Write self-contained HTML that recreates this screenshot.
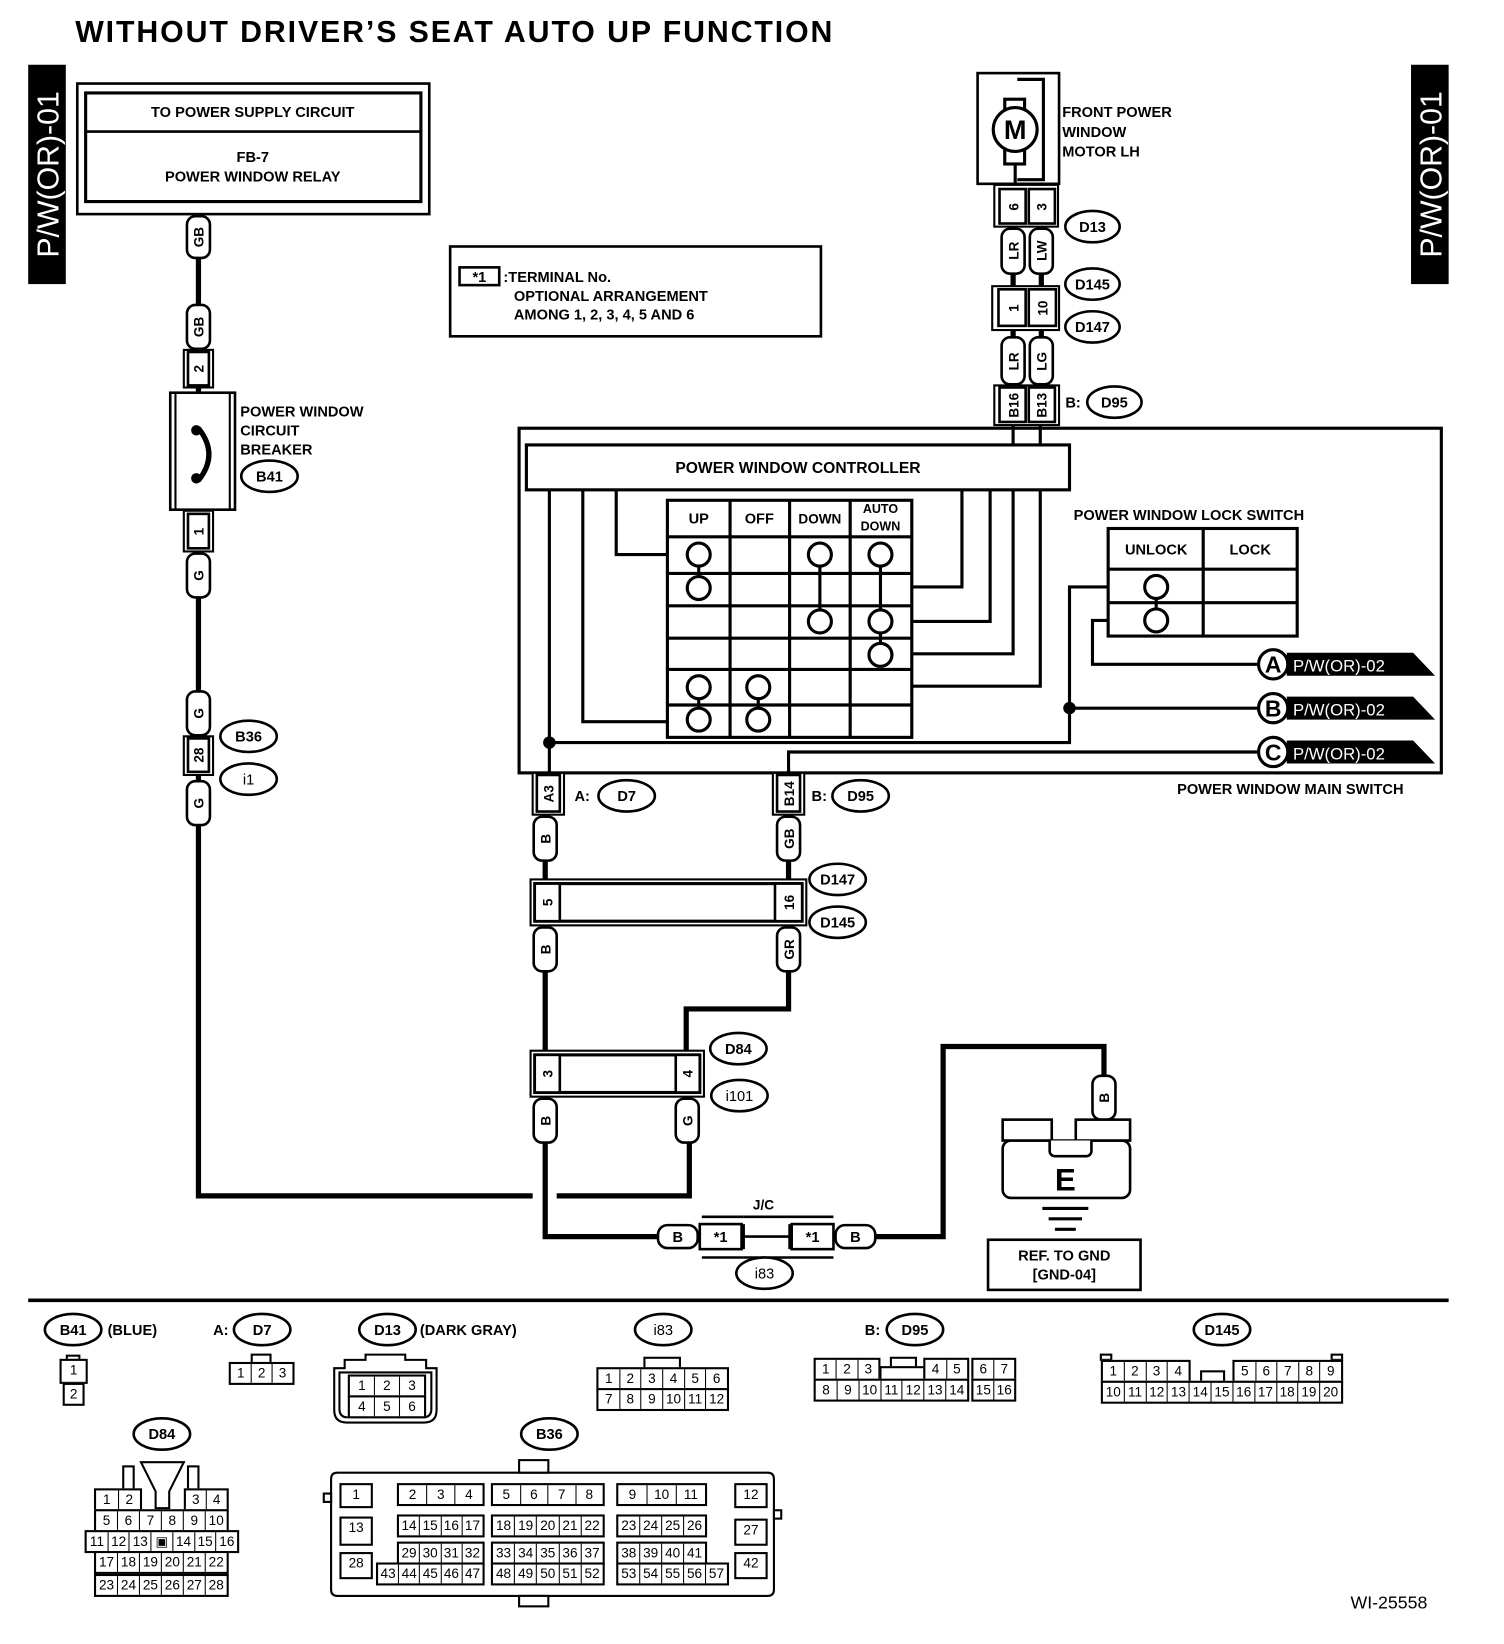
<!DOCTYPE html>
<html><head><meta charset="utf-8"><style>
html,body{margin:0;padding:0;background:#fff;width:1504px;height:1644px;overflow:hidden}
#w{position:absolute;left:0;top:0;width:1440px;height:1574px;transform:scale(1.04444);transform-origin:0 0}
svg{position:absolute;left:0;top:0}
text{font-family:"Liberation Sans",sans-serif;font-weight:bold;fill:#000}
.n{font-weight:normal}
.r{position:absolute;display:flex;border:2px solid #000;height:22px;box-sizing:border-box;background:#fff}
.r i{flex:1;font-style:normal;border-left:1.5px solid #000;text-align:center;font:13px/18px "Liberation Sans",sans-serif;color:#000}
.r i:first-child{border-left:0}
</style></head><body><div id="w">
<svg width="1440" height="1574" viewBox="0 0 1440 1574">
<text x="72" y="40" font-size="29" textLength="725">WITHOUT DRIVER’S SEAT AUTO UP FUNCTION</text>
<rect x="27" y="62" width="36" height="210" fill="#000"/>
<text transform="translate(56,167) rotate(-90)" text-anchor="middle" font-size="29" style="fill:#fff;font-weight:normal">P/W(OR)-01</text>
<rect x="1351" y="62" width="36" height="210" fill="#000"/>
<text transform="translate(1380,167) rotate(-90)" text-anchor="middle" font-size="29" style="fill:#fff;font-weight:normal">P/W(OR)-01</text>

<g fill="none" stroke="#000">
<rect x="74" y="80" width="337" height="125" stroke-width="2.5"/>
<rect x="82" y="89" width="321" height="104" stroke-width="3"/>
<line x1="82" y1="126" x2="403" y2="126" stroke-width="2.5"/>
<rect x="431" y="236" width="355" height="86" stroke-width="2.5"/>
<rect x="440" y="256" width="38" height="17" stroke-width="2.5"/>
<g stroke-width="5">
<path d="M190 205 V1145 H510"/>
<path d="M533 1145 H660 V1080"/>
<path d="M522 780 V1184 H632"/>
<path d="M755 780 V966 H657 V1010"/>
<path d="M838 1184 H903 V1002 H1057 V1040"/>
</g>
<rect x="497" y="410" width="883" height="330" stroke-width="3"/>
<rect x="504" y="426" width="520" height="43" stroke-width="3"/>
<g stroke-width="3">
<path d="M970 405 V426 M996 405 V426"/>
<path d="M526 469 V740"/>
<path d="M558 469 V691 H639"/>
<path d="M590 469 V531 H639"/>
<path d="M921 469 V562 H873"/>
<path d="M948 469 V595 H873"/>
<path d="M970 469 V626 H873"/>
<path d="M996 469 V657 H873"/>
<path d="M526 711 H1024 V562 H1061"/>
<path d="M1061 594 H1046 V636 H1205"/>
<path d="M1024 678 H1205"/>
<path d="M755 740 V720 H1205"/>
</g>
<g stroke-width="3">
<rect x="639" y="479" width="234" height="227"/>
<path d="M699 479V706 M756 479V706 M814 479V706 M639 514H873 M639 549H873 M639 580H873 M639 611H873 M639 641H873 M639 675H873"/>
<path d="M669 531V563 M785 531V595 M843 531V627 M669 658V689 M726 658V689"/>
</g>
<g stroke-width="3" fill="#fff">
<circle cx="669" cy="531" r="11"/><circle cx="669" cy="563" r="11"/>
<circle cx="785" cy="531" r="11"/><circle cx="785" cy="595" r="11"/>
<circle cx="843" cy="531" r="11"/><circle cx="843" cy="595" r="11"/><circle cx="843" cy="627" r="11"/>
<circle cx="669" cy="658" r="11"/><circle cx="669" cy="689" r="11"/>
<circle cx="726" cy="658" r="11"/><circle cx="726" cy="689" r="11"/>
</g>
<g stroke-width="3">
<rect x="1061" y="506" width="181" height="103"/>
<path d="M1152 506V609 M1061 545H1242 M1061 577H1242 M1107 562V594"/>
</g>
<g stroke-width="3" fill="#fff"><circle cx="1107" cy="562" r="11"/><circle cx="1107" cy="594" r="11"/></g>
</g>
<circle cx="526" cy="711" r="6" fill="#000"/>
<circle cx="1024" cy="678" r="6" fill="#000"/>
<g>
<path d="M1232 625 H1353 L1374 647 H1232 Z" fill="#000"/>
<path d="M1232 667 H1353 L1374 689 H1232 Z" fill="#000"/>
<path d="M1232 709 H1353 L1374 731 H1232 Z" fill="#000"/>
<circle cx="1219" cy="636" r="14" fill="#fff" stroke="#000" stroke-width="3"/>
<circle cx="1219" cy="678" r="14" fill="#fff" stroke="#000" stroke-width="3"/>
<circle cx="1219" cy="720" r="14" fill="#fff" stroke="#000" stroke-width="3"/>
<text x="1219" y="644" text-anchor="middle" font-size="22">A</text>
<text x="1219" y="686" text-anchor="middle" font-size="22">B</text>
<text x="1219" y="728" text-anchor="middle" font-size="22">C</text>
<text x="1238" y="643" font-size="16" style="fill:#fff;font-weight:normal">P/W(OR)-02</text>
<text x="1238" y="685" font-size="16" style="fill:#fff;font-weight:normal">P/W(OR)-02</text>
<text x="1238" y="727" font-size="16" style="fill:#fff;font-weight:normal">P/W(OR)-02</text>
</g>

<g fill="none" stroke="#000" stroke-width="3">
<rect x="936" y="70" width="78" height="106" stroke-width="2.5"/>
<path d="M974 76 H999 V172 H974"/>
<rect x="962" y="95" width="19" height="62" fill="#fff"/>
<circle cx="972" cy="124" r="21" fill="#fff"/>
<path d="M972 157 V176"/>
</g>
<text x="972" y="133" text-anchor="middle" font-size="26">M</text>
<g fill="#fff" stroke="#000">
<rect x="952" y="177" width="61" height="40" stroke-width="2"/>
<rect x="957" y="181" width="25" height="33" stroke-width="2.5"/>
<rect x="985" y="181" width="25" height="33" stroke-width="2.5"/>
<rect x="959" y="219" width="22" height="43" rx="8" stroke-width="2.5"/>
<rect x="986" y="219" width="22" height="43" rx="8" stroke-width="2.5"/>
<line x1="970" y1="262" x2="970" y2="275" stroke-width="5"/><line x1="997" y1="262" x2="997" y2="275" stroke-width="5"/>
<rect x="950" y="274" width="64" height="42" stroke-width="2"/>
<rect x="956" y="277" width="26" height="35" stroke-width="2.5"/>
<rect x="985" y="277" width="26" height="35" stroke-width="2.5"/>
<line x1="970" y1="316" x2="970" y2="326" stroke-width="5"/><line x1="997" y1="316" x2="997" y2="326" stroke-width="5"/>
<rect x="959" y="323" width="22" height="45" rx="8" stroke-width="2.5"/>
<rect x="986" y="323" width="22" height="45" rx="8" stroke-width="2.5"/>
<rect x="952" y="369" width="62" height="38" stroke-width="2"/>
<rect x="957" y="371" width="25" height="33" stroke-width="2.5"/>
<rect x="985" y="371" width="25" height="33" stroke-width="2.5"/>
</g>
<g font-size="13">
<text transform="translate(975,198) rotate(-90)" text-anchor="middle">6</text>
<text transform="translate(1002,198) rotate(-90)" text-anchor="middle">3</text>
<text transform="translate(975,240) rotate(-90)" text-anchor="middle">LR</text>
<text transform="translate(1002,240) rotate(-90)" text-anchor="middle">LW</text>
<text transform="translate(975,295) rotate(-90)" text-anchor="middle">1</text>
<text transform="translate(1003,295) rotate(-90)" text-anchor="middle">10</text>
<text transform="translate(975,346) rotate(-90)" text-anchor="middle">LR</text>
<text transform="translate(1002,346) rotate(-90)" text-anchor="middle">LG</text>
<text transform="translate(975,388) rotate(-90)" text-anchor="middle">B16</text>
<text transform="translate(1002,388) rotate(-90)" text-anchor="middle">B13</text>
</g>
<g fill="#fff" stroke="#000" stroke-width="2.5">
<ellipse cx="1046" cy="217" rx="26" ry="15"/>
<ellipse cx="1046" cy="272" rx="26" ry="15"/>
<ellipse cx="1046" cy="313" rx="26" ry="15"/>
<ellipse cx="1067" cy="385" rx="26" ry="15"/>
</g>
<g font-size="14" text-anchor="middle">
<text x="1046" y="222">D13</text><text x="1046" y="277">D145</text><text x="1046" y="318">D147</text><text x="1067" y="390">D95</text>
</g>
<text x="1020" y="390" font-size="14">B:</text>
<g font-size="14"><text x="1017" y="112">FRONT POWER</text><text x="1017" y="131">WINDOW</text><text x="1017" y="150">MOTOR LH</text></g>

<g fill="#fff" stroke="#000" stroke-width="2.5">
<rect x="179" y="207" width="22" height="40" rx="8"/>
<rect x="179" y="292" width="22" height="42" rx="8"/>
<rect x="176" y="335" width="28" height="36" stroke-width="2"/><rect x="180" y="337" width="20" height="32"/>
<rect x="163" y="376" width="62" height="112"/>
<rect x="176" y="489" width="28" height="39" stroke-width="2"/><rect x="180" y="492" width="20" height="33"/>
<rect x="179" y="530" width="22" height="42" rx="8"/>
<rect x="179" y="662" width="22" height="42" rx="8"/>
<rect x="176" y="705" width="28" height="37" stroke-width="2"/><rect x="180" y="707" width="20" height="32"/>
<rect x="179" y="748" width="22" height="42" rx="8"/>
</g>
<path d="M168 376V488 M220 376V488" stroke="#000" stroke-width="2"/>
<path d="M190 410 Q 210 435 190 460" fill="none" stroke="#000" stroke-width="5"/>
<circle cx="188" cy="412" r="5"/><circle cx="188" cy="458" r="5"/>
<g font-size="13">
<text transform="translate(195,227) rotate(-90)" text-anchor="middle">GB</text>
<text transform="translate(195,313) rotate(-90)" text-anchor="middle">GB</text>
<text transform="translate(195,353) rotate(-90)" text-anchor="middle">2</text>
<text transform="translate(195,509) rotate(-90)" text-anchor="middle">1</text>
<text transform="translate(195,551) rotate(-90)" text-anchor="middle">G</text>
<text transform="translate(195,683) rotate(-90)" text-anchor="middle">G</text>
<text transform="translate(195,723) rotate(-90)" text-anchor="middle">28</text>
<text transform="translate(195,769) rotate(-90)" text-anchor="middle">G</text>
</g>
<g font-size="14"><text x="230" y="399">POWER WINDOW</text><text x="230" y="417">CIRCUIT</text><text x="230" y="435">BREAKER</text></g>
<g fill="#fff" stroke="#000" stroke-width="2.5">
<ellipse cx="258" cy="456" rx="27" ry="15"/><ellipse cx="238" cy="705" rx="27" ry="15"/><ellipse cx="238" cy="746" rx="27" ry="15"/>
</g>
<g font-size="14" text-anchor="middle"><text x="258" y="461">B41</text><text x="238" y="710">B36</text><text x="238" y="751" class="n">i1</text></g>

<g font-size="14" text-anchor="middle">
<text x="242" y="112">TO POWER SUPPLY CIRCUIT</text>
<text x="242" y="155">FB-7</text>
<text x="242" y="174">POWER WINDOW RELAY</text>
<text x="764" y="453" font-size="15">POWER WINDOW CONTROLLER</text>
<text x="669" y="501">UP</text><text x="727" y="501">OFF</text><text x="785" y="501" font-size="13">DOWN</text>
<text x="843" y="491" font-size="12">AUTO</text><text x="843" y="508" font-size="12">DOWN</text>
<text x="1107" y="531">UNLOCK</text><text x="1197" y="531">LOCK</text>
</g>
<text x="459" y="270" font-size="14" text-anchor="middle">*1</text>
<g font-size="14"><text x="482" y="270">:TERMINAL No.</text><text x="492" y="288">OPTIONAL ARRANGEMENT</text><text x="492" y="306">AMONG 1, 2, 3, 4, 5 AND 6</text>
<text x="1028" y="498">POWER WINDOW LOCK SWITCH</text>
<text x="1127" y="760">POWER WINDOW MAIN SWITCH</text></g>

<g fill="#fff" stroke="#000" stroke-width="2.5">
<rect x="510" y="740" width="30" height="40" stroke-width="2"/><rect x="514" y="742" width="22" height="35"/>
<rect x="740" y="740" width="30" height="40" stroke-width="2"/><rect x="744" y="742" width="22" height="35"/>
<rect x="511" y="782" width="22" height="42" rx="8"/>
<rect x="744" y="782" width="22" height="42" rx="8"/>
<rect x="508" y="842" width="264" height="44" stroke-width="2"/>
<rect x="512" y="846" width="256" height="36" stroke-width="3"/>
<rect x="512" y="846" width="24" height="36"/><rect x="742" y="846" width="26" height="36"/>
<rect x="511" y="888" width="22" height="42" rx="8"/>
<rect x="744" y="888" width="22" height="42" rx="8"/>
<rect x="508" y="1006" width="166" height="44" stroke-width="2"/>
<rect x="512" y="1010" width="158" height="36" stroke-width="3"/>
<rect x="512" y="1010" width="24" height="36"/><rect x="647" y="1010" width="23" height="36"/>
<rect x="511" y="1052" width="22" height="42" rx="8"/>
<rect x="647" y="1052" width="22" height="42" rx="8"/>
<rect x="630" y="1173" width="38" height="22" rx="9"/>
<rect x="670" y="1172" width="40" height="24"/>
<rect x="758" y="1172" width="40" height="24"/>
<rect x="800" y="1173" width="38" height="22" rx="9"/>
<rect x="1046" y="1030" width="22" height="42" rx="8"/>
</g>
<path d="M712 1165H798 M712 1204H798 M712 1172V1196 M756 1172V1196 M712 1184H756" stroke="#000" stroke-width="2.5" fill="none"/>
<path d="M672 1165H712 M672 1204H712" stroke="#000" stroke-width="2.5"/>
<g font-size="13">
<text transform="translate(530,760) rotate(-90)" text-anchor="middle">A3</text>
<text transform="translate(760,760) rotate(-90)" text-anchor="middle">B14</text>
<text transform="translate(527,803) rotate(-90)" text-anchor="middle">B</text>
<text transform="translate(760,803) rotate(-90)" text-anchor="middle">GB</text>
<text transform="translate(529,864) rotate(-90)" text-anchor="middle">5</text>
<text transform="translate(760,864) rotate(-90)" text-anchor="middle">16</text>
<text transform="translate(527,909) rotate(-90)" text-anchor="middle">B</text>
<text transform="translate(760,909) rotate(-90)" text-anchor="middle">GR</text>
<text transform="translate(529,1028) rotate(-90)" text-anchor="middle">3</text>
<text transform="translate(663,1028) rotate(-90)" text-anchor="middle">4</text>
<text transform="translate(527,1073) rotate(-90)" text-anchor="middle">B</text>
<text transform="translate(663,1073) rotate(-90)" text-anchor="middle">G</text>
<text transform="translate(1062,1051) rotate(-90)" text-anchor="middle">B</text>
</g>
<g font-size="14" text-anchor="middle">
<text x="649" y="1189">B</text><text x="690" y="1189">*1</text><text x="778" y="1189">*1</text><text x="819" y="1189">B</text>
<text x="731" y="1158" font-size="13">J/C</text>
</g>
<text x="550" y="767" font-size="14">A:</text><text x="777" y="767" font-size="14">B:</text>
<g fill="#fff" stroke="#000" stroke-width="2.5">
<ellipse cx="600" cy="762" rx="27" ry="15"/><ellipse cx="824" cy="762" rx="27" ry="15"/>
<ellipse cx="802" cy="842" rx="27" ry="15"/><ellipse cx="802" cy="883" rx="27" ry="15"/>
<ellipse cx="707" cy="1004" rx="27" ry="15"/><ellipse cx="708" cy="1049" rx="27" ry="15"/>
<ellipse cx="732" cy="1219" rx="27" ry="15"/>
</g>
<g font-size="14" text-anchor="middle">
<text x="600" y="767">D7</text><text x="824" y="767">D95</text><text x="802" y="847">D147</text><text x="802" y="888">D145</text>
<text x="707" y="1009">D84</text><text x="708" y="1054" class="n">i101</text><text x="732" y="1224" class="n">i83</text>
</g>
<g fill="#fff" stroke="#000" stroke-width="2.5">
<rect x="960" y="1092" width="122" height="55" rx="8"/>
<rect x="960" y="1072" width="47" height="20"/>
<rect x="1030" y="1072" width="52" height="20"/>
</g>
<path d="M1005 1092 v10 a5 5 0 0 0 5 5 h30 a5 5 0 0 0 5 -5 v-10" fill="#fff" stroke="#000" stroke-width="2.5"/>
<text x="1020" y="1140" font-size="30" text-anchor="middle">E</text>
<path d="M998 1157H1042 M1004 1167H1036 M1010 1177H1030" stroke="#000" stroke-width="3"/>
<rect x="946" y="1187" width="146" height="48" fill="none" stroke="#000" stroke-width="2.5"/>
<g font-size="14" text-anchor="middle"><text x="1019" y="1207">REF. TO GND</text><text x="1019" y="1225">[GND-04]</text></g>

<line x1="27" y1="1245" x2="1387" y2="1245" stroke="#000" stroke-width="3.5"/>

<g fill="#fff" stroke="#000" stroke-width="2.5">
<ellipse cx="70" cy="1273" rx="27" ry="15"/><ellipse cx="251" cy="1273" rx="27" ry="15"/>
<ellipse cx="371" cy="1273" rx="27" ry="15"/><ellipse cx="635" cy="1273" rx="27" ry="15"/>
<ellipse cx="876" cy="1273" rx="27" ry="15"/><ellipse cx="1170" cy="1273" rx="27" ry="15"/>
<ellipse cx="155" cy="1373" rx="27" ry="15"/><ellipse cx="526" cy="1373" rx="27" ry="15"/>
</g>
<g font-size="14" text-anchor="middle">
<text x="70" y="1278">B41</text><text x="251" y="1278">D7</text><text x="371" y="1278">D13</text><text x="635" y="1278" class="n">i83</text>
<text x="876" y="1278">D95</text><text x="1170" y="1278">D145</text><text x="155" y="1378">D84</text><text x="526" y="1378">B36</text>
</g>
<g font-size="14"><text x="103" y="1278">(BLUE)</text><text x="204" y="1278">A:</text><text x="402" y="1278">(DARK GRAY)</text><text x="828" y="1278">B:</text></g>
<text x="1293" y="1540" font-size="17" class="n">WI-25558</text>

<g fill="#fff" stroke="#000" stroke-width="2">
<rect x="64" y="1298" width="12" height="4"/>
<rect x="241" y="1297" width="18" height="8"/>
<rect x="617" y="1300" width="34" height="11"/>
<rect x="853" y="1300" width="24" height="10"/>
<rect x="1054" y="1297" width="10" height="5"/><rect x="1275" y="1297" width="10" height="5"/>
<rect x="1150" y="1313" width="22" height="10"/>
<path d="M320 1310 H330 V1302 H350 V1297 H388 V1302 H408 V1310 H418 V1350 Q418 1362 406 1362 H332 Q320 1362 320 1350 Z"/>
<path d="M325 1314 H413 V1349 Q413 1357 405 1357 H333 Q325 1357 325 1349 Z"/>
<rect x="118" y="1404" width="10" height="24"/><rect x="180" y="1404" width="10" height="24"/>
<path d="M135 1400 H176 L162 1428 V1444 H149 V1428 Z"/>
<path d="M323 1410 H735 Q741 1410 741 1416 V1522 Q741 1528 735 1528 H323 Q317 1528 317 1522 V1416 Q317 1410 323 1410 Z"/>
<rect x="497" y="1398" width="28" height="12"/><rect x="497" y="1528" width="28" height="10"/>
<rect x="310" y="1430" width="7" height="8"/><rect x="741" y="1446" width="7" height="8"/>
</g>
</svg>

<div class="r" style="left:57px;top:1301px;width:27px;height:24px"><i>1</i></div>
<div class="r" style="left:60px;top:1324px;width:21px;height:22px"><i>2</i></div>
<div class="r" style="left:219px;top:1304px;width:63px"><i>1</i><i>2</i><i>3</i></div>
<div class="r" style="left:333px;top:1316px;width:75px"><i>1</i><i>2</i><i>3</i></div>
<div class="r" style="left:333px;top:1336px;width:75px"><i>4</i><i>5</i><i>6</i></div>
<div class="r" style="left:571px;top:1309px;width:127px"><i>1</i><i>2</i><i>3</i><i>4</i><i>5</i><i>6</i></div>
<div class="r" style="left:571px;top:1329px;width:127px"><i>7</i><i>8</i><i>9</i><i>10</i><i>11</i><i>12</i></div>
<div class="r" style="left:779px;top:1300px;width:64px"><i>1</i><i>2</i><i>3</i></div>
<div class="r" style="left:842px;top:1308px;width:44px;height:14px;border-bottom:0"></div>
<div class="r" style="left:884px;top:1300px;width:44px"><i>4</i><i>5</i></div>
<div class="r" style="left:930px;top:1300px;width:43px"><i>6</i><i>7</i></div>
<div class="r" style="left:779px;top:1320px;width:149px"><i>8</i><i>9</i><i>10</i><i>11</i><i>12</i><i>13</i><i>14</i></div>
<div class="r" style="left:930px;top:1320px;width:43px"><i>15</i><i>16</i></div>
<div class="r" style="left:1054px;top:1302px;width:86px"><i>1</i><i>2</i><i>3</i><i>4</i></div>
<div class="r" style="left:1180px;top:1302px;width:106px"><i>5</i><i>6</i><i>7</i><i>8</i><i>9</i></div>
<div class="r" style="left:1054px;top:1322px;width:232px"><i>10</i><i>11</i><i>12</i><i>13</i><i>14</i><i>15</i><i>16</i><i>17</i><i>18</i><i>19</i><i>20</i></div>
<div class="r" style="left:90px;top:1425px;width:46px"><i>1</i><i>2</i></div>
<div class="r" style="left:176px;top:1425px;width:43px"><i>3</i><i>4</i></div>
<div class="r" style="left:90px;top:1445px;width:129px"><i>5</i><i>6</i><i>7</i><i>8</i><i>9</i><i>10</i></div>
<div class="r" style="left:81px;top:1465px;width:148px"><i>11</i><i>12</i><i>13</i><i>▣</i><i>14</i><i>15</i><i>16</i></div>
<div class="r" style="left:90px;top:1485px;width:129px"><i>17</i><i>18</i><i>19</i><i>20</i><i>21</i><i>22</i></div>
<div class="r" style="left:90px;top:1507px;width:129px"><i>23</i><i>24</i><i>25</i><i>26</i><i>27</i><i>28</i></div>
<div class="r" style="left:325px;top:1420px;width:32px;height:24px"><i>1</i></div>
<div class="r" style="left:380px;top:1420px;width:84px"><i>2</i><i>3</i><i>4</i></div>
<div class="r" style="left:470px;top:1420px;width:109px"><i>5</i><i>6</i><i>7</i><i>8</i></div>
<div class="r" style="left:590px;top:1420px;width:87px"><i>9</i><i>10</i><i>11</i></div>
<div class="r" style="left:703px;top:1420px;width:32px;height:24px"><i>12</i></div>
<div class="r" style="left:325px;top:1452px;width:32px;height:28px"><i>13</i></div>
<div class="r" style="left:380px;top:1450px;width:84px"><i>14</i><i>15</i><i>16</i><i>17</i></div>
<div class="r" style="left:470px;top:1450px;width:109px"><i>18</i><i>19</i><i>20</i><i>21</i><i>22</i></div>
<div class="r" style="left:590px;top:1450px;width:87px"><i>23</i><i>24</i><i>25</i><i>26</i></div>
<div class="r" style="left:703px;top:1454px;width:32px;height:26px"><i>27</i></div>
<div class="r" style="left:380px;top:1476px;width:84px"><i>29</i><i>30</i><i>31</i><i>32</i></div>
<div class="r" style="left:470px;top:1476px;width:109px"><i>33</i><i>34</i><i>35</i><i>36</i><i>37</i></div>
<div class="r" style="left:590px;top:1476px;width:87px"><i>38</i><i>39</i><i>40</i><i>41</i></div>
<div class="r" style="left:325px;top:1486px;width:32px;height:26px"><i>28</i></div>
<div class="r" style="left:703px;top:1486px;width:32px;height:26px"><i>42</i></div>
<div class="r" style="left:360px;top:1496px;width:104px"><i>43</i><i>44</i><i>45</i><i>46</i><i>47</i></div>
<div class="r" style="left:470px;top:1496px;width:109px"><i>48</i><i>49</i><i>50</i><i>51</i><i>52</i></div>
<div class="r" style="left:590px;top:1496px;width:108px"><i>53</i><i>54</i><i>55</i><i>56</i><i>57</i></div>
</div></body></html>
